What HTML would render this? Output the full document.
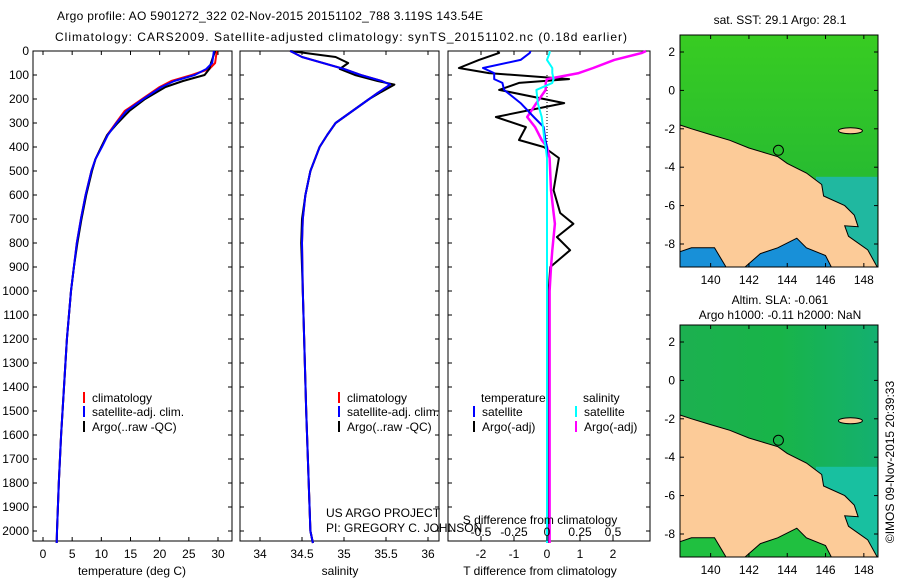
<!DOCTYPE html>
<html><head><meta charset="utf-8"><style>
body{margin:0;background:#fff}
svg text{font-family:"Liberation Sans",sans-serif;font-size:12px;fill:#000}
</style></head><body>
<svg id="c" xmlns="http://www.w3.org/2000/svg" width="900" height="580"></svg>
<script>
// ---- data ----
const tDepth=[0,50,75,100,125,150,200,250,300,350,400,450,500,600,700,800,900,1000,1200,1400,1600,1800,2000,2050];
const tClim=[29.8,29.5,28.5,25.5,22,20,17,14,12.5,11,10,9,8.3,7.3,6.5,5.8,5.3,4.8,4.1,3.6,3.1,2.7,2.4,2.35];
const tSat=[29.3,29.0,28.0,26,22.5,20.3,17.2,14.3,12.6,11.1,10.1,9,8.3,7.3,6.5,5.8,5.3,4.8,4.1,3.6,3.1,2.7,2.4,2.35];
const tArgo=[29.5,28.8,28.5,27.7,24,21,17.5,14.8,12.8,11,10,9,8.4,7.4,6.6,5.9,5.3,4.8,4.1,3.6,3.1,2.7,2.4,2.35];
const sDepth=[0,25,50,75,100,125,140,175,200,250,300,350,400,500,600,700,800,1000,1500,2000,2050];
const sClim=[34.36,34.5,34.75,35.0,35.2,35.45,35.55,35.4,35.3,35.1,34.9,34.8,34.71,34.6,34.54,34.51,34.5,34.51,34.55,34.6,34.63];
const sArgo=[34.36,34.9,35.05,34.95,35.13,35.4,35.6,35.42,35.3,35.1,34.9,34.8,34.71,34.6,34.54,34.5,34.49,34.51,34.55,34.6,34.63];
const dDepth=[0,8,37,71,92,117,133,162,217,275,317,371,400,446,580,675,720,775,830,900,1000,1500,2050];
const dTArgo=[-1.5,-1.45,-2.06,-2.67,-1.76,0.67,-0.85,-1.45,0.52,-1.55,-0.64,-0.85,-0.1,0.36,0.2,0.4,0.8,0.3,0.7,0.1,0.05,0.05,0.05];
const dTSat=[-0.5,-0.52,-0.8,-1.94,-1.6,-1.6,-1.35,-1.3,-0.8,-0.4,-0.1,-0.05,0,0,0,0,0,0,0,0,0,0,0];
const dSArgo=[0.75,0.72,0.51,0.35,0.24,0,-0.01,-0.01,-0.08,-0.15,-0.09,-0.04,0,0.02,0.03,0.05,0.06,0.05,0.04,0.03,0.02,0.02,0.02];
const dSSat=[0.02,0.02,0,0.04,0.04,0.05,0.04,-0.08,-0.07,-0.04,-0.03,-0.02,-0.01,0,0,0,0,0,0,0,0,0,0];
const depthTicks=[0,100,200,300,400,500,600,700,800,900,1000,1100,1200,1300,1400,1500,1600,1700,1800,1900,2000];
const tTicks=[0,5,10,15,20,25,30];
const sTicks=[34,34.5,35,35.5,36];
const dTTicks=[-2,-1,0,1,2];
const dSTicks=[-0.5,-0.25,0,0.25,0.5];
const latTicks=[2,0,-2,-4,-6,-8];
const lonTicks=[140,142,144,146,148];
const argoPos=[143.54,-3.119];

const NS="http://www.w3.org/2000/svg";
const svg=document.getElementById('c');
function E(tag,attrs,parent,txt){const e=document.createElementNS(NS,tag);for(const k in attrs)e.setAttribute(k,attrs[k]);if(txt!==undefined)e.textContent=txt;(parent||svg).appendChild(e);return e;}
const Y=d=>51+d*0.24;
const TOP=51,BOT=541;
const p1={l:33,r:232,x:v=>43+v*(175/30)};
const p2={l:240,r:439,x:v=>260+(v-34)*84};
const p3={l:448,r:650,x:v=>547+v*33,xs:v=>547+v*132};

function frame(p,name){
  const r=E('rect',{x:p.l,y:TOP,width:p.r-p.l,height:BOT-TOP,fill:'none',stroke:'#000','stroke-width':1});
  
  
  depthTicks.forEach(d=>{E('line',{x1:p.l,x2:p.l+4,y1:Y(d),y2:Y(d),stroke:'#000'});E('line',{x1:p.r,x2:p.r-4,y1:Y(d),y2:Y(d),stroke:'#000'});});
}
function line(xs,ds,fx,col,w,name){
  const pts=xs.map((v,i)=>fx(v).toFixed(1)+','+Y(ds[i]).toFixed(1)).join(' ');
  const e=E('polyline',{points:pts,fill:'none',stroke:col,'stroke-width':w,'stroke-linejoin':'round'});
  
  
}
function xticks(p,ticks,fx,yl,fmt){
  ticks.forEach(t=>{const x=fx(t);E('line',{x1:x,x2:x,y1:BOT,y2:BOT-4,stroke:'#000'});E('line',{x1:x,x2:x,y1:TOP,y2:TOP+4,stroke:'#000'});
    const e=E('text',{x:x,y:yl,'text-anchor':'middle'},null,fmt?fmt(t):String(t));
    
    });
}
// titles
let t=E('text',{x:57,y:20,textLength:426,'font-size':13},null,'Argo profile: AO 5901272_322 02-Nov-2015 20151102_788 3.119S 143.54E');


t=E('text',{x:55,y:41,textLength:572,'font-size':13},null,'Climatology: CARS2009. Satellite-adjusted climatology: synTS_20151102.nc (0.18d earlier)');



frame(p1,'temperature-panel');frame(p2,'salinity-panel');frame(p3,'difference-panel');
depthTicks.forEach(d=>{const e=E('text',{x:29,y:Y(d)+4,'text-anchor':'end'},null,String(d));
  
  });

// panel 1
line(tClim,tDepth,p1.x,'#f00',2,'temperature-climatology-line');
line(tArgo,tDepth,p1.x,'#000',2,'temperature-argo-line');
line(tSat,tDepth,p1.x,'#00f',2,'temperature-satellite-line');
xticks(p1,tTicks,p1.x,558);
t=E('text',{x:132,y:575,'text-anchor':'middle'},null,'temperature (deg C)');


// panel 2
line(sClim,sDepth,p2.x,'#f00',2,'salinity-climatology-line');
line(sArgo,sDepth,p2.x,'#000',2,'salinity-argo-line');
line(sClim,sDepth,p2.x,'#00f',2,'salinity-satellite-line');
xticks(p2,sTicks,p2.x,558);
t=E('text',{x:340,y:575,'text-anchor':'middle'},null,'salinity');


// panel 3
E('line',{x1:547,x2:547,y1:Y(100),y2:Y(420),stroke:'#000','stroke-dasharray':'1,2'});
line(dTArgo,dDepth,p3.x,'#000',2,'t-diff-argo-line');
line(dSArgo,dDepth,p3.xs,'#f0f',2.5,'s-diff-argo-line');
line(dTSat,dDepth,p3.x,'#00f',2,'t-diff-satellite-line');
line(dSSat,dDepth,p3.xs,'#0ff',2,'s-diff-satellite-line');
dTTicks.forEach(v=>{const x=p3.x(v);E('line',{x1:x,x2:x,y1:BOT,y2:BOT-4,stroke:'#000'});
  const e=E('text',{x:x,y:558,'text-anchor':'middle'},null,String(v));
  
  });
dSTicks.forEach(v=>{const x=p3.xs(v);E('line',{x1:x,x2:x,y1:TOP,y2:TOP+4,stroke:'#000'});E('line',{x1:x,x2:x,y1:BOT,y2:BOT-5,stroke:'#000'});
  const e=E('text',{x:x,y:536,'text-anchor':'middle'},null,String(v));
  
  });
t=E('text',{x:540,y:524,'text-anchor':'middle'},null,'S difference from climatology');


t=E('text',{x:540,y:575,'text-anchor':'middle'},null,'T difference from climatology');


t=E('text',{x:326,y:517},null,'US ARGO PROJECT');


t=E('text',{x:326,y:532},null,'PI: GREGORY C. JOHNSON');



// legends
function leg(x,y,col,label,name){E('line',{x1:x,x2:x,y1:y-10,y2:y+1,stroke:col,'stroke-width':2});
  const e=E('text',{x:x+8,y:y},null,label);}
[[p1,84],[p2,339]].forEach(([p,x],i)=>{
  leg(x,402,'#f00','climatology','legend-climatology');
  leg(x,416,'#00f','satellite-adj. clim.','legend-satellite');
  leg(x,431,'#000','Argo(..raw -QC)','legend-argo');
});
t=E('text',{x:481,y:402},null,'temperature');
t=E('text',{x:583,y:402},null,'salinity');
leg(474,416,'#00f','satellite','legend-t-satellite');
leg(474,431,'#000','Argo(-adj)','legend-t-argo');
leg(576,416,'#0ff','satellite','legend-s-satellite');
leg(576,431,'#f0f','Argo(-adj)','legend-s-argo');

// maps
const coast=[[138.4,-1.8],[139,-2],[140,-2.3],[141,-2.6],[142,-3],[143,-3.3],[143.5,-3.45],[144,-3.8],[145,-4.3],[145.8,-4.9],[145.9,-5.5],[147,-6],[147.5,-6.5],[147.7,-7.1],[147,-7.05],[147.2,-7.6],[148.2,-8.3],[148.7,-9.2],[146.3,-9.2],[146,-8.6],[145,-8.2],[144.5,-7.7],[143.5,-8.2],[142.6,-8.5],[141.8,-9.2],[140.8,-9.2],[140.2,-8.2],[139,-8.2],[138.4,-8.4]];
function map(dy,name,ocean,east,south){
  const MX=v=>680+(v-138.4)*19.15,MY=v=>52+dy+(2-v)*19.2;
  const g=E('g',{});
  E('rect',{x:680,y:35+dy,width:198,height:232,fill:ocean},g);
  E('rect',{x:MX(145.5),y:MY(-4.5),width:MX(148.7)-MX(145.5),height:MY(-9.2)-MY(-4.5),fill:east},g);
  E('rect',{x:680,y:MY(-7.6),width:MX(146.3)-680,height:MY(-9.2)-MY(-7.6),fill:south},g);
  E('polygon',{points:coast.map(p=>MX(p[0]).toFixed(1)+','+MY(p[1]).toFixed(1)).join(' '),fill:'#fccb98',stroke:'#000','stroke-width':1},g);
  E('ellipse',{cx:MX(147.3),cy:MY(-2.1),rx:12,ry:3,fill:'#fccb98',stroke:'#000'},g);
  const c=E('circle',{cx:MX(argoPos[0]),cy:MY(argoPos[1]),r:5,fill:'none',stroke:'#000'},g);
  
  E('rect',{x:680,y:35+dy,width:198,height:232,fill:'none',stroke:'#000'},g);
  latTicks.forEach(v=>{E('line',{x1:680,x2:684,y1:MY(v),y2:MY(v),stroke:'#000'});E('line',{x1:878,x2:874,y1:MY(v),y2:MY(v),stroke:'#000'});
    const e=E('text',{x:675,y:MY(v)+4,'text-anchor':'end'},null,String(v));});
  lonTicks.forEach(v=>{E('line',{x1:MX(v),x2:MX(v),y1:35+dy,y2:39+dy,stroke:'#000'});E('line',{x1:MX(v),x2:MX(v),y1:267+dy,y2:263+dy,stroke:'#000'});
    const e=E('text',{x:MX(v),y:284+dy,'text-anchor':'middle'},null,String(v));});
}
const defs=E('defs',{});
let lg=E('linearGradient',{id:'g1',x1:0,y1:0,x2:0,y2:1},defs);
E('stop',{offset:0,'stop-color':'#38cc22'},lg);E('stop',{offset:0.6,'stop-color':'#28bc30'},lg);E('stop',{offset:1,'stop-color':'#1cac60'},lg);
lg=E('linearGradient',{id:'g2',x1:0,y1:0,x2:1,y2:0},defs);
E('stop',{offset:0,'stop-color':'#1cb050'},lg);E('stop',{offset:0.5,'stop-color':'#18b448'},lg);E('stop',{offset:1,'stop-color':'#14b070'},lg);
map(0,'sst-map','url(#g1)','#20b8a0','#1890d8');
map(290,'sla-map','url(#g2)','#18c0a0','#20c040');
t=E('text',{x:780,y:24,'text-anchor':'middle'},null,'sat. SST: 29.1 Argo: 28.1');
t=E('text',{x:780,y:304,'text-anchor':'middle'},null,'Altim. SLA: -0.061');
t=E('text',{x:780,y:319,'text-anchor':'middle'},null,'Argo h1000: -0.11 h2000: NaN');
t=E('text',{x:0,y:0,'text-anchor':'middle',transform:'translate(894,462) rotate(-90)'},null,'©IMOS 09-Nov-2015 20:39:33');
</script>
</body></html>
